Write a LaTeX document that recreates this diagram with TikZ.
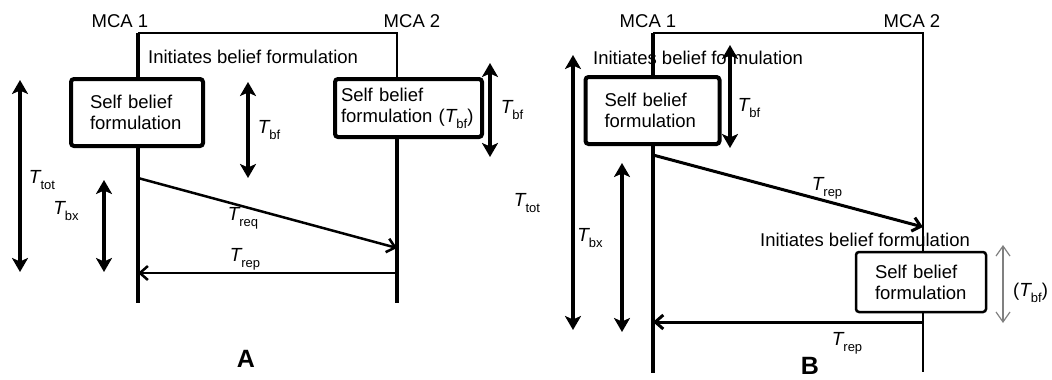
\documentclass[tikz,border=0pt]{standalone}
\usepackage{fontspec}
\setmainfont{Liberation Sans}
\usetikzlibrary{arrows.meta,positioning}
\newcommand{\Tsub}[1]{{\fontsize{19}{21}\selectfont\textit{T}}\kern-0.06em\raisebox{-0.6ex}{\fontsize{13}{13}\selectfont #1}}

\begin{document}
\begin{tikzpicture}[x=1pt,y=-1pt,
    every node/.style={font=\fontsize{18.5}{21}\selectfont,inner sep=0pt},
    lifeline/.style={line width=4pt},
    thinline/.style={line width=2pt},
    belief/.style={draw,fill=white,rounded corners=3pt,line width=4pt,align=left,
        text width=94pt,minimum height=#1,inner xsep=19pt},
    span/.style={{Stealth[length=14pt,width=16pt,inset=3.5pt]}-{Stealth[length=14pt,width=16pt,inset=3.5pt]},line width=4pt},
    msg/.style={-{Straight Barb[length=8pt,width=14pt]},line width=2.5pt},
    graysp/.style={{Straight Barb[length=10pt,width=14pt]}-{Straight Barb[length=10pt,width=14pt]},line width=1.2pt,gray}]
    \useasboundingbox (0,0) rectangle (1052,380);

    % A
    \node (amca1) at (120,21) {MCA 1};
    \node (amca2) at (412,21) {MCA 2};
    \coordinate (a1top) at (138,33);
    \coordinate (a2top) at (397,33);
    \coordinate (a1bot) at (138,303);
    \coordinate (a2bot) at (397,303);
    \draw[thinline] (a1top) -- (a2top) -- (a2bot);
    \draw[lifeline] (a1top) -- (a1bot);
    \node[anchor=west] (ainit) at (148,57) {Initiates belief formulation};
    \node[belief=67pt] (abox1) at (137,112.5) {Self belief\\formulation};
    \node[belief=58pt,text width=135pt,inner xsep=6pt] (abox2) at (408.5,108) {Self belief\\formulation (\Tsub{bf})};
    \draw[lifeline] (a2top |- abox2.south) -- (a2bot);

    \coordinate (atot1) at (20,80);   \coordinate (atot2) at (20,272);
    \coordinate (abx1) at (104,180);  \coordinate (abx2) at (104,272);
    \coordinate (abf1) at (248,82);   \coordinate (abf2) at (248,178);
    \coordinate (abfr1) at (490,63);  \coordinate (abfr2) at (490,157);
    \path (atot1) edge[span] (atot2)
          (abx1) edge[span] (abx2)
          (abf1) edge[span] (abf2)
          (abfr1) edge[span] (abfr2);
    \node (atotl) at (42,180) {\Tsub{tot}};
    \node (abxl) at (66,211) {\Tsub{bx}};
    \node (abfl) at (269,130) {\Tsub{bf}};
    \node (abfrl) at (512,110) {\Tsub{bf}};

    \coordinate (areq1) at (138,178);
    \coordinate (areq2) at (397,248);
    \coordinate (arep1) at (397,273);
    \coordinate (arep2) at (138,273);
    \path (areq1) edge[msg] (areq2)
          (arep1) edge[msg] (arep2);
    \node (areql) at (243,218) {\Tsub{req}};
    \node (arepl) at (245,259) {\Tsub{rep}};
    \node[font=\fontsize{25}{27}\selectfont\bfseries] (alab) at (246,359) {A};

    % B
    \node (bmca1) at (648,21) {MCA 1};
    \node (bmca2) at (912,21) {MCA 2};
    \coordinate (b1top) at (653,33);
    \coordinate (b2top) at (923,33);
    \coordinate (b1bot) at (653,373);
    \coordinate (b2bot) at (923,372);
    \draw[thinline] (b1top) -- (b2top) -- (b2bot);
    \draw[lifeline] (b1top) -- (b1bot);
    \node (binit1) at (698,58) {Initiates belief formulation};
    \node[belief=67pt,text width=96pt] (bbox1) at (652.5,110.5) {Self belief\\formulation};
    \node (binit2) at (865,240) {Initiates belief formulation};
    \node[belief=60pt,line width=2.5pt,text width=92pt] (bbox2) at (921,282) {Self belief\\formulation};

    \coordinate (btot1) at (573,55);  \coordinate (btot2) at (573,330);
    \coordinate (bbx1) at (622,163);  \coordinate (bbx2) at (622,332);
    \coordinate (bbf1) at (730,45);   \coordinate (bbf2) at (730,148);
    \coordinate (bgr1) at (1003,245); \coordinate (bgr2) at (1003,323);
    \path (btot1) edge[span] (btot2)
          (bbx1) edge[span] (bbx2)
          (bbf1) edge[span] (bbf2)
          (bgr1) edge[graysp] (bgr2);
    \node (btotl) at (527,203) {\Tsub{tot}};
    \node (bbxl) at (590,238) {\Tsub{bx}};
    \node (bbfl) at (749,108) {\Tsub{bf}};
    \node[anchor=west] (bgrl) at (1013,293) {(\Tsub{bf})};

    \coordinate (brep1) at (653,155);
    \coordinate (brep2) at (923,227);
    \coordinate (bret1) at (923,322);
    \coordinate (bret2) at (653,322);
    \path (brep1) edge[msg,line width=3pt] (brep2)
          (bret1) edge[msg,line width=3pt] (bret2);
    \node (brepl) at (827,188) {\Tsub{rep}};
    \node (bretl) at (847,343) {\Tsub{rep}};
    \node[font=\fontsize{25}{27}\selectfont\bfseries] (blab) at (810,366) {B};
\end{tikzpicture}
\end{document}
